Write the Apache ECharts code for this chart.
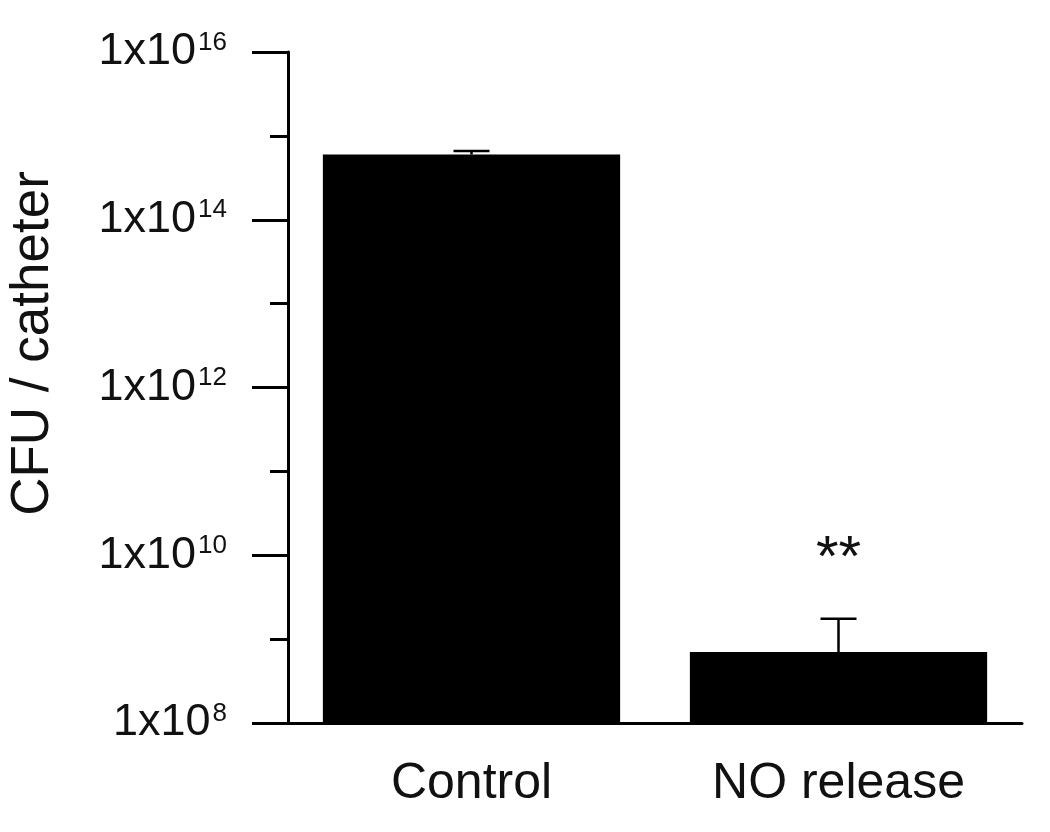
<!DOCTYPE html>
<html>
<head>
<meta charset="utf-8">
<script src="https://cdn.jsdelivr.net/npm/echarts@6/dist/echarts.min.js"></script>
<style>
  html, body { margin: 0; padding: 0; background: #fff; }
  #chart { width: 1050px; height: 832px; }
</style>
</head>
<body>
<div id="chart"></div>
<script>
// data
const categories = ["Control", "NO release"];
const cfuMean = [6.0e14, 7.0e8];
const cfuErrTop = [6.6e14, 1.75e9];
const sigMarks = ["", "**"];

const font = "Liberation Sans, Arial, sans-serif";

const chart = echarts.init(document.getElementById("chart"));

const option = {
  backgroundColor: "#fff",
  animation: false,
  grid: { left: 288, right: 28, top: 52, bottom: 109, containLabel: false, outerBoundsMode: "none" },
  xAxis: {
    type: "category",
    data: categories,
    axisLine: { lineStyle: { color: "#000", width: 3 } },
    axisTick: { show: false },
    axisLabel: { color: "#111", fontSize: 50, fontFamily: font, margin: 36 },
  },
  yAxis: [
    {
      type: "log",
      logBase: 10,
      min: 1e8,
      max: 1e16,
      interval: 2,
      name: "CFU / catheter",
      nameLocation: "middle",
      nameGap: 228,
      nameTextStyle: { color: "#111", fontSize: 53, fontFamily: font, padding: [0, 0, 0, 88] },
      axisLine: { show: true, lineStyle: { color: "#000", width: 3 } },
      axisTick: { show: true, length: 36, lineStyle: { color: "#000", width: 3 } },
      splitLine: { show: false },
      axisLabel: {
        margin: 61,
        formatter: (v) => "{b|1x10}{s|" + Math.round(Math.log10(v)) + "}",
        rich: {
          b: { fontSize: 45, color: "#111", fontFamily: font },
          s: { fontSize: 26, color: "#111", fontFamily: font, verticalAlign: "top", padding: [0, 0, 0, 2] },
        },
      },
    },
    {
      type: "log",
      logBase: 10,
      min: 1e8,
      max: 1e16,
      interval: 1,
      position: "left",
      axisLine: { show: false },
      axisTick: { show: true, length: 18, lineStyle: { color: "#000", width: 3 } },
      axisLabel: { show: false },
      splitLine: { show: false },
    },
  ],
  series: [
    {
      type: "bar",
      data: cfuMean,
      barWidth: "81%",
      clip: true,
      itemStyle: { color: "#000" },
    },
    {
      type: "custom",
      data: categories.map((c, i) => [i, cfuMean[i], cfuErrTop[i]]),
      clip: false,
      renderItem: (params, api) => {
        const i = api.value(0);
        const base = api.coord([i, api.value(1)]);
        const top = api.coord([i, api.value(2)]);
        const half = 18;
        const style = { stroke: "#000", lineWidth: 2.5 };
        const children = [
          { type: "line", shape: { x1: base[0], y1: base[1], x2: top[0], y2: top[1] }, style },
          { type: "line", shape: { x1: top[0] - half, y1: top[1], x2: top[0] + half, y2: top[1] }, style },
        ];
        if (sigMarks[i]) {
          children.push({
            type: "text",
            style: {
              text: sigMarks[i],
              x: top[0],
              y: top[1] - 30,
              align: "center",
              verticalAlign: "bottom",
              fontSize: 58,
              fontFamily: font,
              fill: "#111",
            },
          });
        }
        return { type: "group", children };
      },
    },
  ],
};

chart.setOption(option);
</script>
</body>
</html>
